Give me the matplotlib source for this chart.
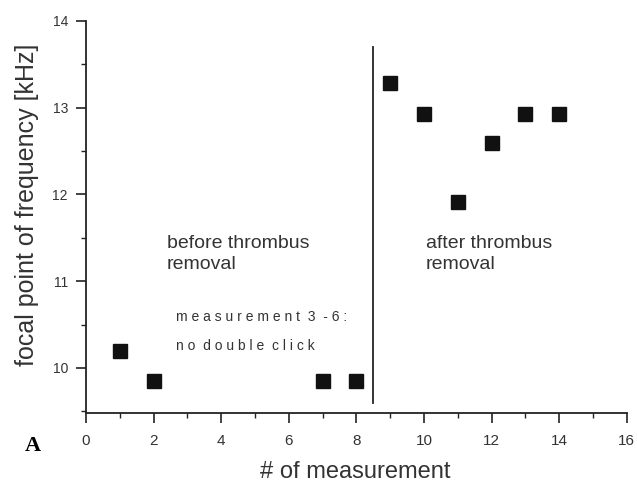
import matplotlib
matplotlib.use("Agg")
import matplotlib.pyplot as plt
from matplotlib.ticker import MultipleLocator

measurement = [1, 2, 7, 8, 9, 10, 11, 12, 13, 14]
frequency = [10.20, 9.85, 9.85, 9.85, 13.28, 12.93, 11.91, 12.59, 12.93, 12.93]
x_ticks = [0, 2, 4, 6, 8, 10, 12, 14, 16]
y_ticks = [10, 11, 12, 13, 14]
divider_x = 8.5

plt.rcParams['font.family'] = ['Liberation Sans', 'DejaVu Sans']
fig = plt.figure(figsize=(6.37, 4.86), dpi=100)
ax = fig.add_axes([0.135, 0.150, 0.849, 0.807])

ax.plot(measurement, frequency, linestyle='none', marker='s', markersize=9.5,
        color='#111111')
ax.plot([divider_x, divider_x], [9.6, 13.7], color='#222222', lw=1.3)

ax.set_xlim(0, 16)
ax.set_ylim(9.48, 14)
ax.set_xticks(x_ticks)
ax.set_yticks(y_ticks)
ax.xaxis.set_minor_locator(MultipleLocator(1))
ax.yaxis.set_minor_locator(MultipleLocator(0.5))
ax.spines['top'].set_visible(False)
ax.spines['right'].set_visible(False)
for s in ['left', 'bottom']:
    ax.spines[s].set_linewidth(1.3)
    ax.spines[s].set_color('#222222')
ax.tick_params(which='major', length=7, width=1.2, color='#222222',
               labelcolor='#333333')
ax.tick_params(which='minor', length=3.5, width=1.0, color='#222222')
ax.tick_params(axis='x', which='major', labelsize=11, pad=8)
ax.tick_params(axis='y', which='major', labelsize=10, pad=6)

ax.set_xlabel('# of measurement', fontsize=17, color='#333333',
              va='center')
ax.xaxis.set_label_coords(0.497, -0.151)
ax.set_ylabel('focal point of frequency [kHz]', fontsize=18, color='#333333',
              va='center')
ax.yaxis.set_label_coords(-0.109, 0.531)

txt_kw = dict(fontsize=14, color='#333333', va='center', ha='left')
ax.text(2.40, 11.44, 'before thrombus', **txt_kw)
ax.text(2.40, 11.187, 'removal', **txt_kw)
ax.text(10.06, 11.44, 'after thrombus', **txt_kw)
ax.text(10.06, 11.187, 'removal', **txt_kw)
small_kw = dict(fontsize=10, color='#333333', va='center', ha='left')
ax.text(2.66, 10.587, 'm e a s u r e m e n t  3  - 6 :', **small_kw)
ax.text(2.66, 10.253, 'n o  d o u b l e  c l i c k', **small_kw)

fig.text(25/637, 1 - 446/486, 'A', fontsize=16, fontweight='bold',
         family='Liberation Serif', va='center', ha='left')

fig.savefig('out.png', dpi=100)
